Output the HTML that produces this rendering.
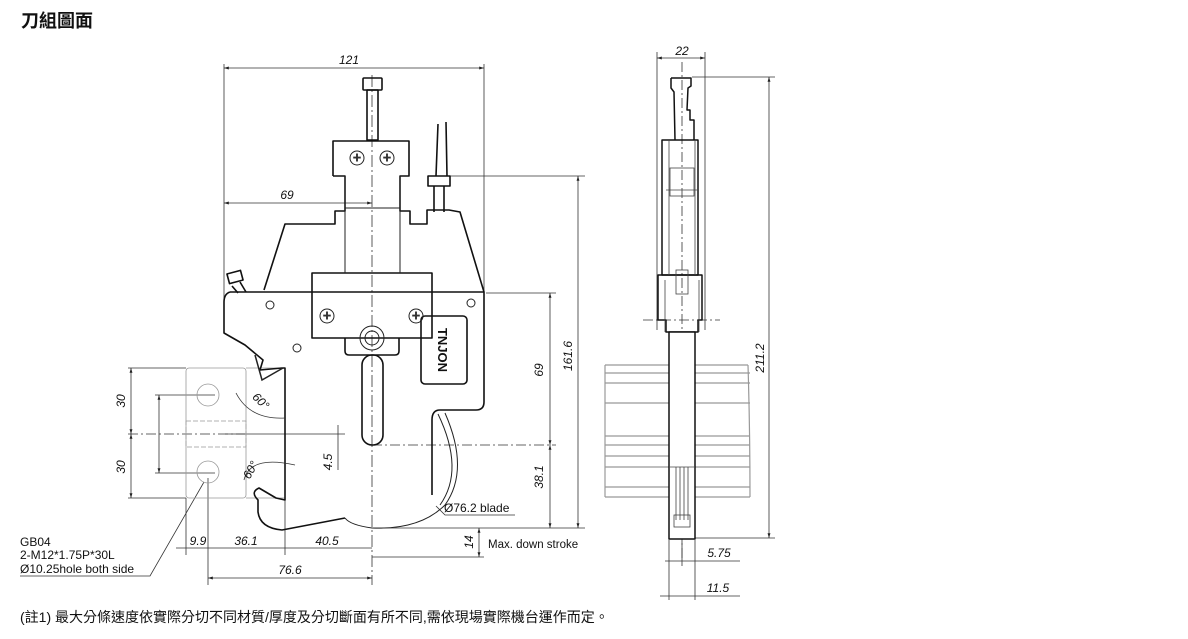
<!DOCTYPE html>
<html><head><meta charset="utf-8"><style>
body{margin:0;background:#fff;width:1188px;height:634px;overflow:hidden;font-family:"Liberation Sans","Noto Sans CJK TC",sans-serif}
</style></head><body>
<svg width="1188" height="634" viewBox="0 0 1188 634" xmlns="http://www.w3.org/2000/svg" font-family="Liberation Sans, Noto Sans CJK TC, sans-serif">
<defs>
<marker id="a" viewBox="0 0 10 10" refX="10" refY="5" markerWidth="8" markerHeight="6" orient="auto-start-reverse"><path d="M0,2 L10,5 L0,8z" fill="#222"/></marker>
</defs>
<rect width="1188" height="634" fill="#fff"/>
<text x="21" y="27" font-size="18" font-weight="bold" fill="#111">刀組圖面</text>

<g stroke="#333" stroke-width="0.8" fill="none">
<line x1="224" y1="64" x2="224" y2="300"/>
<line x1="484" y1="64" x2="484" y2="292"/>
<line x1="224" y1="68" x2="484" y2="68" marker-start="url(#a)" marker-end="url(#a)"/>
<line x1="224" y1="203" x2="372" y2="203" marker-start="url(#a)" marker-end="url(#a)"/>
<line x1="450" y1="176" x2="585" y2="176"/>
<line x1="486" y1="293" x2="556" y2="293"/>
<line x1="372" y1="445" x2="556" y2="445" stroke-dasharray="10,3,2,3"/>
<line x1="372" y1="528" x2="585" y2="528"/>
<line x1="578" y1="176" x2="578" y2="528" marker-start="url(#a)" marker-end="url(#a)"/>
<line x1="550" y1="293" x2="550" y2="445" marker-start="url(#a)" marker-end="url(#a)"/>
<line x1="550" y1="445" x2="550" y2="528" marker-start="url(#a)" marker-end="url(#a)"/>
<line x1="372" y1="557" x2="484" y2="557"/>
<line x1="479" y1="528" x2="479" y2="557" marker-start="url(#a)" marker-end="url(#a)"/>
<line x1="372" y1="75" x2="372" y2="585" stroke-dasharray="12,3,2,3"/>
<line x1="186" y1="498" x2="186" y2="555"/>
<line x1="208" y1="478" x2="208" y2="585"/>
<line x1="285" y1="500" x2="285" y2="555"/>
<line x1="176" y1="548" x2="372" y2="548"/>
<line x1="208" y1="578" x2="372" y2="578" marker-start="url(#a)" marker-end="url(#a)"/>
<line x1="128" y1="368" x2="186" y2="368"/>
<line x1="128" y1="498" x2="186" y2="498"/>
<line x1="128" y1="434" x2="245" y2="434" stroke-dasharray="10,3,2,3"/>
<line x1="131" y1="368" x2="131" y2="434" marker-start="url(#a)" marker-end="url(#a)"/>
<line x1="131" y1="434" x2="131" y2="498" marker-start="url(#a)" marker-end="url(#a)"/>
<line x1="155" y1="395" x2="215" y2="395"/>
<line x1="155" y1="473" x2="215" y2="473"/>
<line x1="159" y1="395" x2="159" y2="473" marker-start="url(#a)" marker-end="url(#a)"/>
<line x1="338" y1="425" x2="338" y2="470"/>
<line x1="225" y1="434" x2="345" y2="434"/>
<polyline points="20,576 150,576 204,482"/>
<polyline points="436,506 445,515 515,515"/>
</g>

<g stroke="#999" stroke-width="0.8" fill="none">
<rect x="186" y="368" width="60" height="130" rx="3"/>
<circle cx="208" cy="395" r="11"/><circle cx="208" cy="472" r="11"/>
<rect x="186" y="421" width="60" height="26" stroke-dasharray="5,2"/>
<line x1="246" y1="368" x2="285" y2="368"/>
<line x1="246" y1="498" x2="285" y2="498"/>
</g>

<g stroke="#111" stroke-width="1.6" fill="none" stroke-linejoin="round">
<rect x="363" y="78" width="19" height="12" rx="1"/>
<rect x="367" y="90" width="11" height="50"/>
<path d="M333,176 V141 H409 V176 H400 V211 H410 V224 H427 V210 H449 L460,212 L484,292"/>
<path d="M333,176 H345 V211 H335 V224 H285 L264,290"/>
<path d="M428,176 h22 v10 h-22z"/>
<path d="M434,186 V212 M444,186 V212"/>
<path d="M438,124 L436,176 M446,122 L447,176"/>
<path d="M230,292 H484 V402 Q484,410 476,410 H440 Q432,410 432,420 V495"/>
<path d="M230,292 Q224,294 224,302 V333 L245,345 L263,360 L260,370 L282,368 L285,368 V500 L276,498 L259,488 Q250,492 258,500 V512 Q260,528 282,530 L345,518"/>
<rect x="312" y="273" width="120" height="65"/>
<path d="M345,338 v13 q0,4 4,4 h46 q4,0 4,-4 v-13"/>
<rect x="362" y="355" width="21" height="90" rx="10"/>
<rect x="421" y="316" width="46" height="68" rx="4"/>
<rect x="228" y="272" width="14" height="10" transform="rotate(-15 235 277)"/>
<path d="M232,286 L238,293 M240,282 L246,292"/>
</g>
<g stroke="#222" stroke-width="1" fill="none">
<line x1="345" y1="176" x2="345" y2="273"/><line x1="400" y1="176" x2="400" y2="273"/>
<line x1="345" y1="208" x2="400" y2="208"/>
<circle cx="357" cy="158" r="7"/><circle cx="387" cy="158" r="7"/>
<circle cx="327" cy="316" r="7"/><circle cx="416" cy="316" r="7"/>
<circle cx="372" cy="338" r="12"/><circle cx="372" cy="338" r="7"/>
<circle cx="270" cy="305" r="4"/><circle cx="471" cy="303" r="4"/><circle cx="297" cy="348" r="4"/>
<path d="M445,413 Q470,470 445,505 Q420,530 372,528 Q350,525 345,518"/>
<path d="M438,414 Q465,470 440,505"/>
<path d="M255,355 L262,380 L283,368" stroke-width="1.5"/>
</g>
<g fill="#333" font-size="9">
<text x="357" y="161" text-anchor="middle">✚</text><text x="387" y="161" text-anchor="middle">✚</text>
<text x="327" y="319" text-anchor="middle">✚</text><text x="416" y="319" text-anchor="middle">✚</text>
</g>
<text transform="translate(438,350) rotate(90)" text-anchor="middle" font-size="13" font-weight="bold" fill="#111">TNJON</text>

<g stroke="#333" stroke-width="0.8" fill="none">
<path d="M236,393 Q250,420 285,418"/>
<path d="M244,480 Q250,455 295,465"/>
</g>

<!-- side view -->
<g stroke="#999" stroke-width="1.2" fill="none">
<path d="M605,365 H748 M605,497 H750 M605,365 V497"/>
<path d="M605,373 H750 M605,383 H750 M605,403 H750 M605,436 H750 M605,445 H750 M605,456 H750 M605,467 H750 M605,487 H750"/>
<path d="M748,365 Q750,430 750,497"/>
</g>
<g stroke="#333" stroke-width="0.8" fill="none">
<line x1="657" y1="52" x2="657" y2="330"/><line x1="705" y1="52" x2="705" y2="330"/>
<line x1="657" y1="58" x2="705" y2="58" marker-start="url(#a)" marker-end="url(#a)"/>
<line x1="692" y1="77" x2="775" y2="77"/><line x1="695" y1="538" x2="775" y2="538"/>
<line x1="769" y1="77" x2="769" y2="538" marker-start="url(#a)" marker-end="url(#a)"/>
<line x1="669" y1="540" x2="669" y2="600"/><line x1="682" y1="540" x2="682" y2="566"/><line x1="695" y1="540" x2="695" y2="600"/>
<line x1="665" y1="561" x2="740" y2="561"/>
<line x1="660" y1="596" x2="740" y2="596"/>
<line x1="682" y1="62" x2="682" y2="560" stroke-dasharray="10,3,2,3"/>
<line x1="643" y1="320" x2="720" y2="320" stroke-dasharray="10,3,2,3"/>
</g>
<g stroke="#111" stroke-width="1.5" fill="none" stroke-linejoin="round">
<path d="M671,78 H691 V86 L688,88 L687,110 L690,110 V120 L694,120 V140"/>
<path d="M671,78 V88 L674,92 L675,140"/>
<rect x="662" y="140" width="36" height="135"/>
<path d="M658,275 H702 V320 H698 V332 H666 V320 H658 Z"/>
<rect x="669" y="332" width="26" height="207" fill="#fff"/>
</g>
<g stroke="#444" stroke-width="0.8" fill="none">
<line x1="669" y1="140" x2="669" y2="275"/><line x1="695" y1="140" x2="695" y2="275"/>
<rect x="670" y="168" width="24" height="28"/>
<line x1="666" y1="190" x2="698" y2="190"/>
<rect x="676" y="270" width="12" height="24"/>
<line x1="665" y1="280" x2="665" y2="332"/><line x1="699" y1="280" x2="699" y2="332"/>
<line x1="669" y1="467" x2="695" y2="467"/>
<path d="M676,467 V520 M680,467 V520 M684,467 V520 M688,467 V520"/>
<rect x="674" y="515" width="16" height="12"/>
</g>

<g font-size="12" font-style="italic" fill="#111" text-anchor="middle">
<text x="349" y="64">121</text>
<text x="287" y="199">69</text>
<text x="682" y="55">22</text>
<text x="198" y="545">9.9</text>
<text x="246" y="545">36.1</text>
<text x="327" y="545">40.5</text>
<text x="290" y="574">76.6</text>
<text x="719" y="557">5.75</text>
<text x="718" y="592">11.5</text>
<text transform="translate(125,401) rotate(-90)">30</text>
<text transform="translate(125,467) rotate(-90)">30</text>
<text transform="translate(332,462) rotate(-90)">4.5</text>
<text transform="translate(543,370) rotate(-90)">69</text>
<text transform="translate(572,356) rotate(-90)">161.6</text>
<text transform="translate(543,477) rotate(-90)">38.1</text>
<text transform="translate(473,542) rotate(-90)">14</text>
<text transform="translate(764,358) rotate(-90)">211.2</text>
<text transform="translate(258,404) rotate(45)">60°</text>
<text transform="translate(254,472) rotate(-60)">60°</text>
</g>
<g font-size="12" fill="#111">
<text x="444" y="512">Ø76.2 blade</text>
<text x="488" y="548" font-size="11.5">Max. down stroke</text>
<text x="20" y="546">GB04</text>
<text x="20" y="559">2-M12*1.75P*30L</text>
<text x="20" y="573">Ø10.25hole both side</text>
</g>
<text x="20" y="622" font-size="14" fill="#111">(註1) 最大分條速度依實際分切不同材質/厚度及分切斷面有所不同,需依現場實際機台運作而定。</text>
</svg>
</body></html>
